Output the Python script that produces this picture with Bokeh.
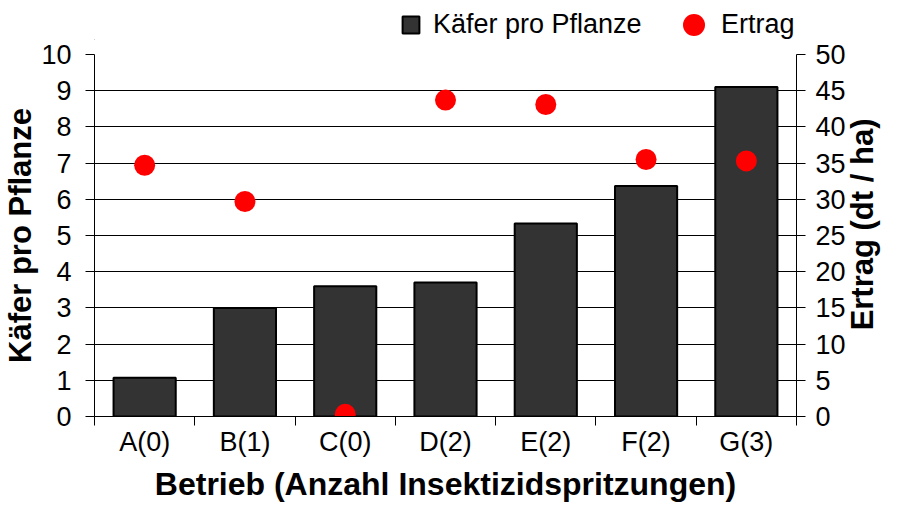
import math
from bokeh.plotting import figure
from bokeh.layouts import column
from bokeh.models import (Range1d, LinearAxis, FixedTicker, Legend, LegendItem,
                          ColumnDataSource)
from bokeh.embed import file_html
from bokeh.resources import INLINE

categories = ["A(0)", "B(1)", "C(0)", "D(2)", "E(2)", "F(2)", "G(3)"]
kaefer = [1.07, 3.0, 3.6, 3.7, 5.33, 6.37, 9.1]
ertrag = [34.7, 29.7, 0.3, 43.7, 43.1, 35.5, 35.3]
left_ticks = list(range(0, 11))
right_ticks = list(range(0, 55, 5))

FONT = "Liberation Sans"
TICK_FS = "27px"
TITLE_FS = "31px"
BAR_COLOR = "#333333"
DOT_COLOR = "#ff0000"
LEFT = 93

xpos = [i + 0.5 for i in range(len(categories))]
bounds = list(range(len(categories) + 1))
src = ColumnDataSource(dict(x=xpos, k=kaefer, e=ertrag, c=categories))

p = figure(width=900, height=464, output_backend="svg",
           toolbar_location=None,
           x_range=Range1d(0, len(categories)), y_range=Range1d(0, 10),
           min_border_left=LEFT, min_border_right=0, min_border_top=14,
           min_border_bottom=86)
p.extra_y_ranges = {"ertrag": Range1d(0, 50)}
p.outline_line_color = None
p.background_fill_color = "white"
p.border_fill_color = "white"

p.xgrid.grid_line_color = None
p.ygrid.grid_line_color = "black"
p.ygrid.grid_line_width = 1
p.ygrid.grid_line_alpha = 1.0
p.ygrid.ticker = FixedTicker(ticks=left_ticks)

bars = p.vbar(x="x", top="k", width=0.62, bottom=0, source=src,
              fill_color=BAR_COLOR, line_color="black", line_width=2)
dots = p.scatter(x="x", y="e", source=src, y_range_name="ertrag", size=21,
                 fill_color=DOT_COLOR, line_color=None)

# x axis
xa = p.xaxis[0]
xa.ticker = FixedTicker(ticks=xpos, minor_ticks=bounds)
xa.major_label_overrides = {x: c for x, c in zip(xpos, categories)}
xa.major_tick_line_color = None
xa.major_tick_out = 0
xa.minor_tick_out = 9
xa.minor_tick_in = 0
xa.minor_tick_line_color = "black"
xa.axis_line_color = "black"
xa.major_label_text_font = FONT
xa.major_label_text_font_size = TICK_FS
xa.major_label_text_color = "black"
xa.major_label_standoff = 1
xa.axis_label = "Betrieb (Anzahl Insektizidspritzungen)"
xa.axis_label_text_font = FONT
xa.axis_label_text_font_size = "32px"
xa.axis_label_text_font_style = "bold"
xa.axis_label_text_color = "black"
xa.axis_label_standoff = 6

# left axis
ya = p.yaxis[0]
ya.ticker = FixedTicker(ticks=left_ticks)
ya.major_tick_out = 9
ya.major_tick_in = 0
ya.minor_tick_line_color = None
ya.axis_line_color = "black"
ya.major_label_text_font = FONT
ya.major_label_text_font_size = TICK_FS
ya.major_label_text_color = "black"
ya.major_label_standoff = 14
ya.axis_label = "Käfer pro Pflanze"
ya.axis_label_text_font = FONT
ya.axis_label_text_font_size = TITLE_FS
ya.axis_label_text_font_style = "bold"
ya.axis_label_text_color = "black"
ya.axis_label_standoff = 0

# right axis (label reads bottom-to-top as in the reference)
ra = LinearAxis(y_range_name="ertrag", ticker=FixedTicker(ticks=right_ticks))
ra.major_tick_out = 9
ra.major_tick_in = 0
ra.minor_tick_line_color = None
ra.axis_line_color = "black"
ra.major_label_text_font = FONT
ra.major_label_text_font_size = TICK_FS
ra.major_label_text_color = "black"
ra.major_label_standoff = 10
ra.axis_label = "\u00a0" * 10 + "Ertrag (dt / ha)"
ra.axis_label_text_font = FONT
ra.axis_label_text_font_size = TITLE_FS
ra.axis_label_text_font_style = "bold"
ra.axis_label_text_color = "black"
ra.axis_label_standoff = 14
props = ra.properties()
if "axis_label_orientation" in props:
    ra.axis_label_orientation = math.pi / 2
if "axis_label_align" in props:
    ra.axis_label_align = "start"
p.add_layout(ra, "right")

# legend strip above the chart (its frame is aligned with the chart frame)
lg = figure(width=900, height=40, output_backend="svg", toolbar_location=None,
            x_range=Range1d(0, 1), y_range=Range1d(0, 1),
            x_axis_location=None, y_axis_location=None,
            min_border=0, min_border_left=0, min_border_right=0,
            min_border_top=0, min_border_bottom=0)
lg.grid.visible = False
lg.outline_line_color = None
lg.background_fill_color = "white"
lg.border_fill_color = "white"
hidden = ColumnDataSource(dict(x=[-5], y=[-5], t=[-5]))
lbar = lg.vbar(x="x", top="t", width=0.1, source=hidden,
               fill_color=BAR_COLOR, line_color="black", line_width=2)
ldot = lg.scatter(x="x", y="y", source=hidden, size=21,
                  fill_color=DOT_COLOR, line_color=None)

leg1 = Legend(items=[LegendItem(label="Käfer pro Pflanze", renderers=[lbar])],
              location=(306, 0),
              label_text_font=FONT, label_text_font_size=TICK_FS,
              label_text_color="black", glyph_width=21, glyph_height=21,
              padding=0, margin=0, border_line_color=None,
              background_fill_alpha=0, label_standoff=12)
lg.add_layout(leg1, "center")

leg2 = Legend(items=[LegendItem(label="Ertrag", renderers=[ldot])],
              location=(572, -12),
              label_text_font=FONT, label_text_font_size=TICK_FS,
              label_text_color="black", glyph_width=55, glyph_height=55,
              padding=0, margin=0, border_line_color=None,
              background_fill_alpha=0, label_standoff=-5)
lg.add_layout(leg2, "center")

layout = column(lg, p, spacing=0)
open("out.html", "w").write(file_html(layout, INLINE))
